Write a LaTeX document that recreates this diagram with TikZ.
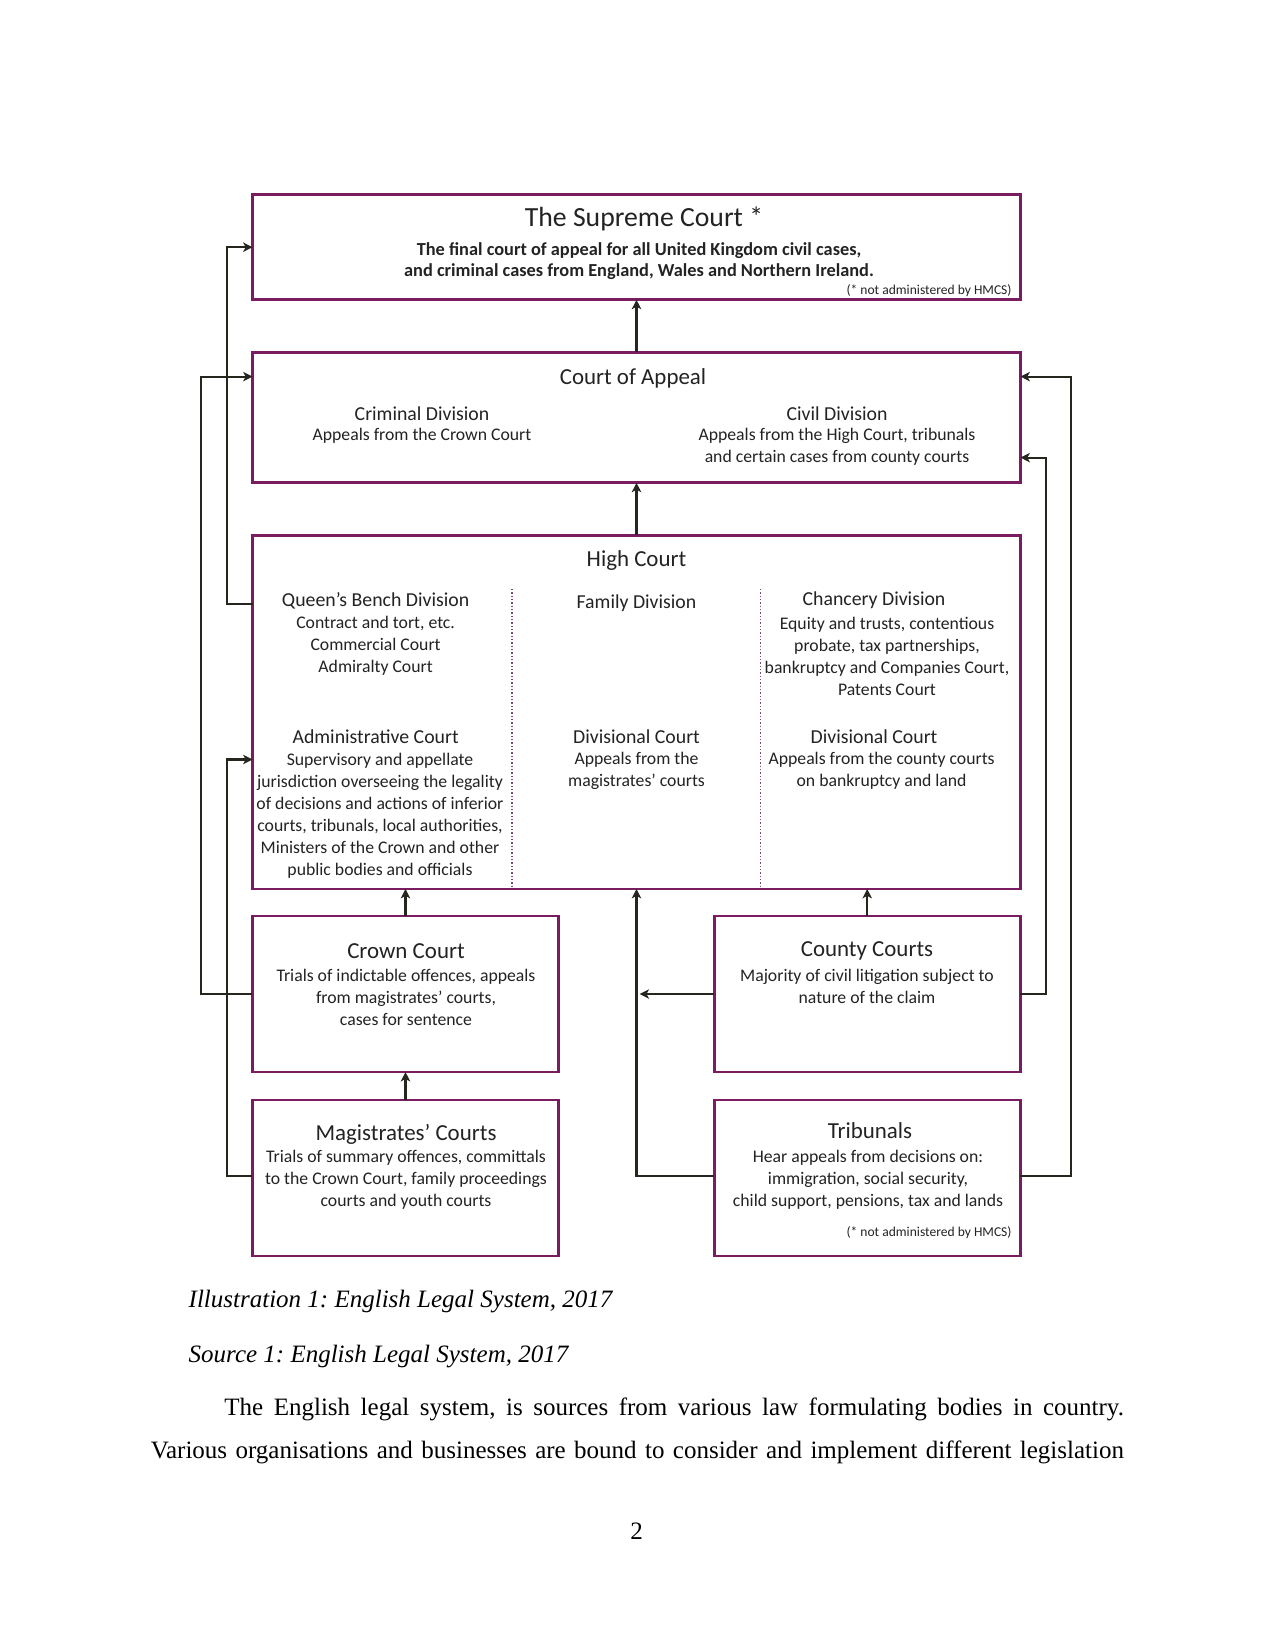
\documentclass[tikz,border=0pt]{standalone}
\usepackage{fontspec}
\setmainfont{Liberation Serif}
\newfontfamily\gillf{Carlito}
\usetikzlibrary{arrows.meta}
\definecolor{boxpurple}{RGB}{122,28,98}
\definecolor{txt}{RGB}{35,35,35}
\definecolor{linec}{RGB}{38,38,30}
\frenchspacing
\begin{document}
\begin{tikzpicture}[x=0.48pt,y=-0.48pt,
  box/.style={draw=boxpurple,line width=1.3pt,inner sep=0pt,outer sep=0pt},
  arr/.style={draw=linec,line width=1pt,-{Stealth[length=4.5pt,width=4.5pt,inset=1.2pt]}},
  body/.style={font=\gillf\fontsize{8.5}{10.56}\selectfont,text=txt,align=center,inner sep=0pt},
  divt/.style={font=\gillf\fontsize{9.5}{10.56}\selectfont,text=txt,align=center,inner sep=0pt},
  head/.style={font=\gillf\fontsize{11}{13}\selectfont,text=txt,inner sep=0pt},
  note/.style={font=\gillf\fontsize{6.5}{8}\selectfont,text=txt,inner sep=0pt,anchor=east},
  divider/.style={draw=boxpurple!55!gray,line width=0.6pt,densely dotted},
  captext/.style={font=\fontsize{12}{14}\selectfont\itshape,anchor=base west,inner sep=0pt},
  para/.style={font=\fontsize{12}{14}\selectfont,anchor=base west,inner sep=0pt},
]
\useasboundingbox[fill=white] (0,0) rectangle (1275,1650);

% ---------- boxes ----------
\node[box,minimum width=368.6pt,minimum height=50.5pt] (sc) at (636.5,247.2) {};
\node[box,minimum width=368.6pt,minimum height=62.6pt] (ca) at (636.5,417.6) {};
\node[box,minimum width=368.6pt,minimum height=169.7pt] (hc) at (636.5,712.2) {};
\node[box,minimum width=146.9pt,minimum height=74.9pt] (cc) at (405.5,994) {};
\node[box,minimum width=146.9pt,minimum height=74.9pt] (cty) at (867.2,994) {};
\node[box,minimum width=146.9pt,minimum height=74.9pt] (mc) at (405.5,1178) {};
\node[box,minimum width=146.9pt,minimum height=74.9pt] (tr) at (867.2,1178) {};

% ---------- Supreme Court ----------
\node[font=\gillf\fontsize{13.3}{15}\selectfont,text=txt,inner sep=0pt] (scT) at (644,219) {The Supreme Court *};
\node[body,font=\gillf\bfseries\fontsize{8.8}{10.1}\selectfont] (scB) at (639,261) {The final court of appeal for all United Kingdom civil cases,\\and criminal cases from England, Wales and Northern Ireland.};
\node[note] (scN) at (1012,291) {(* not administered by HMCS)};

% ---------- Court of Appeal ----------
\node[head] (caT) at (633,378) {Court of Appeal};
\node[divt] (crT) at (422,413.5) {Criminal Division};
\node[body] (crB) at (422,435.5) {Appeals from the Crown Court};
\node[divt] (cvT) at (837,413.5) {Civil Division};
\node[body] (cvB) at (837,446.5) {Appeals from the High Court, tribunals\\and certain cases from county courts};

% ---------- helper coordinates ----------
\coordinate (ySC) at (0,247.2);
\coordinate (yCA) at (0,376.6);
\coordinate (yCA2) at (0,457.6);
\coordinate (yQB) at (0,604);
\coordinate (yHC) at (0,759.5);
\coordinate (yCC) at (0,994);
\coordinate (yMC) at (0,1176);
\coordinate (xL1) at (227.2,0);
\coordinate (xL2) at (201,0);
\coordinate (xR1) at (1045.7,0);
\coordinate (xR2) at (1071,0);
\coordinate (d1) at (512,589);
\coordinate (d2) at (760.6,589);

% ---------- High Court ----------
\node[head] (hcT) at (636.5,561) {High Court};
\node[divt] (qbT) at (375.6,600.7) {Queen’s Bench Division};
\node[body] (qbB) at (375.6,645.9) {Contract and tort, etc.\\Commercial Court\\Admiralty Court};
\node[divt] (fdT) at (636.5,603) {Family Division};
\node[divt] (chT) at (874,600.7) {Chancery Division};
\node[body] (chB) at (887,656.9) {Equity and trusts, contentious\\probate, tax partnerships,\\bankruptcy and Companies Court,\\Patents Court};
\node[divt] (adT) at (375.6,736.4) {Administrative Court};
\node[body] (adB) at (380,815.3) {Supervisory and appellate\\jurisdiction overseeing the legality\\of decisions and actions of inferior\\courts, tribunals, local authorities,\\Ministers of the Crown and other\\public bodies and officials};
\node[divt] (dmT) at (636.5,736.4) {Divisional Court};
\node[body] (dmB) at (636.5,770.6) {Appeals from the\\magistrates’ courts};
\node[divt] (drT) at (874,736.4) {Divisional Court};
\node[body] (drB) at (881.6,770.6) {Appeals from the county courts\\on bankruptcy and land};
\draw[divider] (d1) -- (d1 |- hc.south);
\draw[divider] (d2) -- (d2 |- hc.south);

% ---------- lower boxes ----------
\node[head] (ccT) at (406,951) {Crown Court};
\node[body] (ccB) at (406,997) {Trials of indictable offences, appeals\\from magistrates’ courts,\\cases for sentence};
\node[head] (ctyT) at (867,951) {County Courts};
\node[body] (ctyB) at (867,986) {Majority of civil litigation subject to\\nature of the claim};
\node[head] (mcT) at (406,1134) {Magistrates’ Courts};
\node[body] (mcB) at (406,1180) {Trials of summary offences, committals\\to the Crown Court, family proceedings\\courts and youth courts};
\node[head] (trT) at (870,1131) {Tribunals};
\node[body] (trB) at (868,1180) {Hear appeals from decisions on:\\immigration, social security,\\child support, pensions, tax and lands};
\node[note] (trN) at (1012,1233) {(* not administered by HMCS)};

% ---------- connectors ----------
\draw[arr] (ca.north) -- (sc.south);
\draw[arr] (hc.north) -- (ca.south);
\draw[arr] (cc.north) -- (cc.north |- hc.south);
\draw[arr] (cty.north) -- (cty.north |- hc.south);
\draw[arr] (mc.north) -- (cc.south);
\draw[arr] (tr.west |- yMC) -| (hc.south);
\draw[arr,shorten >=1.5pt] (cty.west |- yCC) -- (hc.south |- yCC);
\draw[arr] (hc.west |- yQB) -| (xL1 |- ySC) -- (sc.west |- ySC);
\draw[arr] (cc.west |- yCC) -| (xL2 |- yCA) -- (ca.west |- yCA);
\draw[arr] (mc.west |- yMC) -| (xL1 |- yHC) -- (hc.west |- yHC);
\draw[arr] (tr.east |- yMC) -| (xR2 |- yCA) -- (ca.east |- yCA);
\draw[arr] (cty.east |- yCC) -| (xR1 |- yCA2) -- (ca.east |- yCA2);

% ---------- page text ----------
\node[captext] (cap1) at (188.3,1307) {Illustration 1: English Legal System, 2017};
\node[captext] (cap2) at (188.3,1362) {Source 1: English Legal System, 2017};
\node[para] (p1) at (224,1415) {\makebox[431.8pt][s]{The English legal system, is sources from various law formulating bodies in country.}};
\node[para] (p2) at (150.4,1458) {\makebox[467.1pt][s]{Various organisations and businesses are bound to consider and implement different legislation}};
\node[font=\fontsize{12}{14}\selectfont,anchor=base,inner sep=0pt] (pg) at (636.5,1539) {2};
\end{tikzpicture}
\end{document}
